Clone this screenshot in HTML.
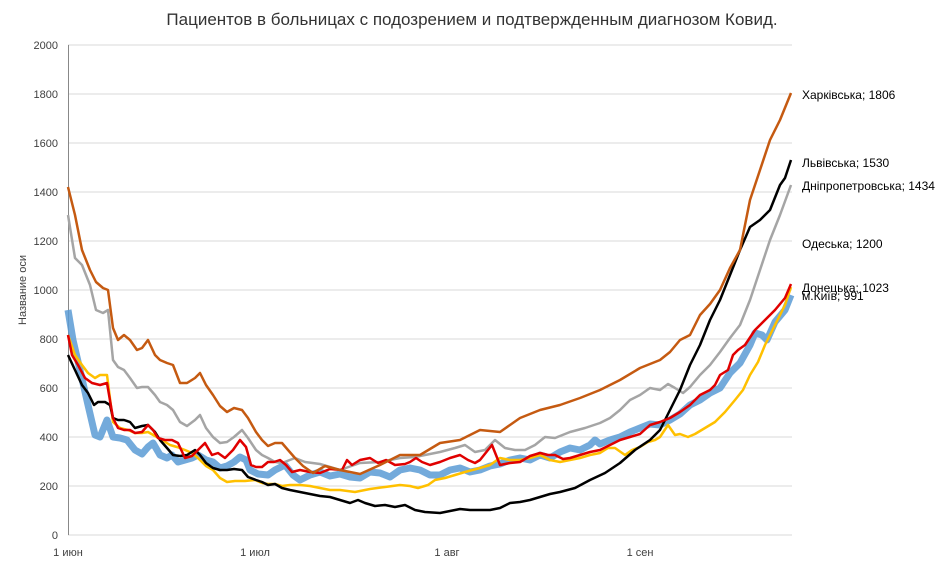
<!DOCTYPE html>
<html><head><meta charset="utf-8"><style>
body{margin:0;background:#fff;}
svg{display:block;font-family:"Liberation Sans",sans-serif;}
</style></head><body>
<svg width="943" height="568" viewBox="0 0 943 568">
<rect width="943" height="568" fill="#fff"/>
<text x="472" y="25" text-anchor="middle" font-size="17" fill="#333">Пациентов в больницах с подозрением и подтвержденным диагнозом Ковид.</text>
<g stroke="#d9d9d9" stroke-width="1">
<line x1="68" x2="792" y1="45" y2="45"/><line x1="68" x2="792" y1="94" y2="94"/>
<line x1="68" x2="792" y1="143" y2="143"/><line x1="68" x2="792" y1="192" y2="192"/>
<line x1="68" x2="792" y1="241" y2="241"/><line x1="68" x2="792" y1="290" y2="290"/>
<line x1="68" x2="792" y1="339" y2="339"/><line x1="68" x2="792" y1="388" y2="388"/>
<line x1="68" x2="792" y1="437" y2="437"/><line x1="68" x2="792" y1="486" y2="486"/>
<line x1="68" x2="792" y1="535" y2="535"/>
</g>
<line x1="68.5" x2="68.5" y1="45" y2="535" stroke="#888"/>
<g font-size="11" fill="#404040" text-anchor="end">
<text x="58" y="49">2000</text><text x="58" y="98">1800</text><text x="58" y="147">1600</text>
<text x="58" y="196">1400</text><text x="58" y="245">1200</text><text x="58" y="294">1000</text>
<text x="58" y="343">800</text><text x="58" y="392">600</text><text x="58" y="441">400</text>
<text x="58" y="490">200</text><text x="58" y="539">0</text>
</g>
<g font-size="11" fill="#404040" text-anchor="middle">
<text x="68" y="556">1 июн</text><text x="255" y="556">1 июл</text><text x="447" y="556">1 авг</text><text x="640" y="556">1 сен</text>
</g>
<text transform="translate(26,290) rotate(-90)" text-anchor="middle" font-size="11" fill="#404040">Название оси</text>
<g fill="none" stroke-linejoin="round">
<polyline stroke="#5b9bd5" stroke-opacity="0.85" stroke-width="7" points="68,310 73,340 80,370 88,405 95,435 100,437 107,420 113,437 120,438 127,440 135,450 142,454 148,447 153,443 160,455 167,458 172,455 178,462 185,460 192,458 198,455 206,460 213,462 220,468 227,466 234,462 240,457 246,460 250,470 258,474 268,475 275,470 285,465 293,475 300,480 310,475 320,472 330,476 340,474 350,477 360,478 370,472 380,473 390,477 400,470 410,468 420,470 430,475 440,475 450,470 460,468 470,472 480,470 490,466 500,464 510,460 520,458 530,460 540,455 550,458 560,452 570,448 580,450 590,445 595,440 600,444 610,440 620,437 630,432 640,428 650,424 660,425 670,420 680,414 690,405 700,400 710,393 720,388 730,373 740,363 750,345 755,333 762,335 767,340 775,322 785,310 791,295"/>
<polyline stroke="#ffc000" stroke-width="2.5" points="68,335 75,355 82,365 88,373 95,378 100,375 107,375 113,422 120,428 128,430 135,433 142,433 148,432 155,436 162,440 170,445 177,447 185,450 192,453 198,458 206,466 213,470 220,478 227,482 235,481 245,481 255,480 262,483 268,484 275,484 282,486 290,485 300,485 310,486 320,488 330,490 340,490 355,492 370,489 385,487 400,485 410,486 418,488 428,485 435,480 445,478 455,475 465,472 480,468 490,465 500,458 510,460 520,460 530,458 540,455 550,460 560,462 570,460 580,458 590,455 600,453 608,448 615,448 625,455 632,450 640,447 648,442 655,440 660,437 668,425 675,435 680,434 688,437 695,434 705,428 715,422 725,412 735,400 743,390 750,375 758,362 765,345 775,325 785,305 791,287"/>
<polyline stroke="#a5a5a5" stroke-width="2.5" points="68,215 75,258 82,265 90,285 96,310 103,313 108,310 113,360 118,367 124,370 130,378 137,388 142,387 148,387 155,395 160,402 167,405 173,410 180,422 187,426 195,420 200,415 206,428 213,437 220,443 227,442 234,437 242,430 248,438 256,450 262,455 268,458 275,462 282,463 295,458 305,462 320,464 340,470 360,463 380,462 400,458 415,457 425,455 440,452 455,448 465,445 475,452 485,450 495,440 505,448 515,450 525,450 535,445 545,437 555,438 570,432 585,428 600,423 610,418 620,410 630,400 640,395 650,388 660,390 668,384 675,388 683,393 690,387 700,375 710,365 720,352 730,338 740,325 750,300 760,270 770,240 780,215 791,185"/>
<polyline stroke="#000" stroke-width="2.5" points="68,355 75,370 82,385 88,393 94,405 98,402 105,402 110,405 113,418 118,420 124,420 130,422 135,428 142,426 148,425 155,432 160,440 167,448 173,455 180,456 187,455 195,450 200,455 206,463 213,468 220,470 227,470 234,469 242,470 248,477 256,480 262,482 268,485 275,484 282,488 290,490 300,492 310,494 320,496 330,497 340,500 350,503 358,500 365,503 375,506 385,505 395,507 405,505 415,510 425,512 440,513 450,511 460,509 470,510 490,510 500,508 510,503 520,502 530,500 540,497 550,494 560,492 575,488 590,480 605,473 620,463 635,450 650,440 660,430 670,410 680,390 690,365 700,345 710,320 720,300 730,275 740,250 750,227 760,220 770,210 780,185 785,178 791,160"/>
<polyline stroke="#e00000" stroke-width="2.5" points="68,335 72,355 78,365 85,378 92,383 100,385 107,383 113,418 118,428 124,430 130,430 135,433 142,432 148,425 153,430 158,438 165,440 172,440 178,443 185,458 192,456 198,450 205,443 212,455 218,453 225,458 233,450 240,440 246,447 251,465 256,467 262,467 268,462 274,462 280,460 286,465 292,472 300,470 310,472 320,473 330,469 342,470 347,460 352,465 360,460 370,458 378,463 386,460 395,465 405,464 410,462 416,458 422,462 430,465 440,462 450,458 460,455 468,460 475,463 480,460 492,445 500,465 510,463 520,462 530,456 540,453 548,455 555,455 563,459 570,458 580,455 590,452 600,450 610,445 620,440 630,437 640,434 650,425 660,422 670,418 680,412 690,405 700,395 710,390 715,385 720,375 728,370 733,355 738,350 745,345 755,330 765,320 775,310 785,298 791,284"/>
<polyline stroke="#c55a11" stroke-width="2.5" points="68,187 75,215 82,250 90,270 96,282 103,288 108,290 113,328 118,340 124,335 130,340 137,350 142,348 148,340 155,355 160,360 167,363 173,365 180,383 187,383 195,378 200,373 206,385 213,395 220,406 227,412 234,408 242,410 248,418 256,432 262,440 268,446 275,443 282,443 288,450 295,458 303,466 313,473 325,466 340,470 360,474 380,465 400,455 420,455 440,443 460,440 480,430 500,432 510,425 520,418 540,410 560,405 580,398 600,390 620,380 640,368 660,360 670,352 680,340 690,335 700,315 710,304 720,290 730,268 740,250 750,200 760,170 770,140 780,120 791,93"/>
</g>
<g font-size="12" fill="#000">
<text x="802" y="99">Харківська; 1806</text>
<text x="802" y="167">Львівська; 1530</text>
<text x="802" y="190">Дніпропетровська; 1434</text>
<text x="802" y="248">Одеська; 1200</text>
<text x="802" y="292">Донецька; 1023</text>
<text x="802" y="300">м.Київ; 991</text>
</g>
</svg>
</body></html>
